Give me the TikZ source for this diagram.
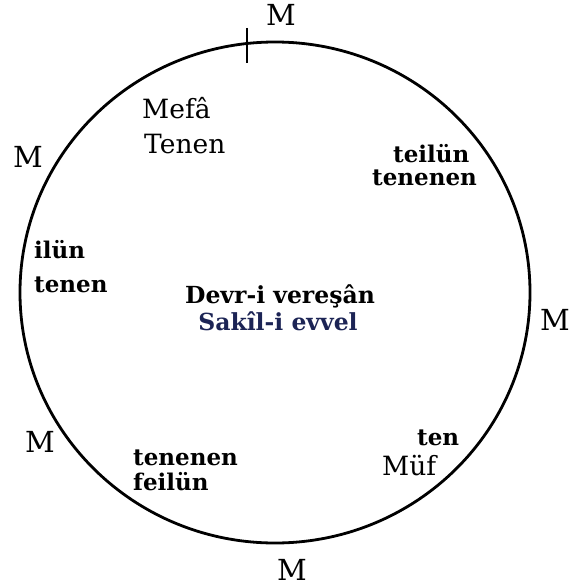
\documentclass[tikz,border=0pt]{standalone}
\usepackage{fontspec}
\setmainfont{DejaVu Serif}
\usetikzlibrary{positioning}
\definecolor{circleblack}{HTML}{000000}
\definecolor{sakilblue}{HTML}{1C2455}

\begin{document}
\begin{tikzpicture}[
  x=1pt, y=-1pt,
  mlabel/.style={inner sep=0pt, anchor=base, font=\fontsize{29}{32}\selectfont},
  plain/.style={inner sep=0pt, anchor=base west, font=\fontsize{26.5}{30}\selectfont},
  heavy/.style={inner sep=0pt, anchor=base west, font=\fontsize{23}{26}\selectfont\bfseries},
  ring/.style={draw=circleblack, line width=2.8pt}
]
\useasboundingbox (0,0) rectangle (571,586);

% Circle
\draw[ring] (275,292.5) ellipse [x radius=255, y radius=250.5];
\coordinate (tickA) at (247,28);
\coordinate (tickB) at (247,63);
\draw[line width=1.8pt] (tickA) -- (tickB);

% M marks round the circle
\node[mlabel] (mtop) at (281,26) {M};
\node[mlabel] (mleft) at (28,167) {M};
\node[mlabel] (mright) at (555,330) {M};
\node[mlabel] (mlow) at (40,452) {M};
\node[mlabel] (mbottom) at (292,580) {M};

% Syllables
\node[plain] (mefa) at (142,118) {Mefâ};
\node[plain] (tenenA) at (144,153) {Tenen};

\node[heavy] (teilun) at (393,162) {teilün};
\node[heavy] (tenenenA) at (372,185) {tenenen};

\node[heavy] (ilun) at (34,258) {ilün};
\node[heavy] (tenenB) at (34,292) {tenen};

\node[heavy] (tenenenB) at (133,465) {tenenen};
\node[heavy] (feilun) at (133,490) {feilün};

\node[heavy] (ten) at (417,445) {ten};
\node[plain] (muf) at (382,475) {Müf};

% Centre
\node[inner sep=0pt, anchor=base, font=\fontsize{23.5}{26}\selectfont\bfseries] (devr) at (280,303) {Devr-i vereşân};
\node[inner sep=0pt, anchor=base, font=\fontsize{23.5}{26}\selectfont\bfseries, text=sakilblue] (sakil) at (278,330) {Sakîl-i evvel};

\end{tikzpicture}
\end{document}
